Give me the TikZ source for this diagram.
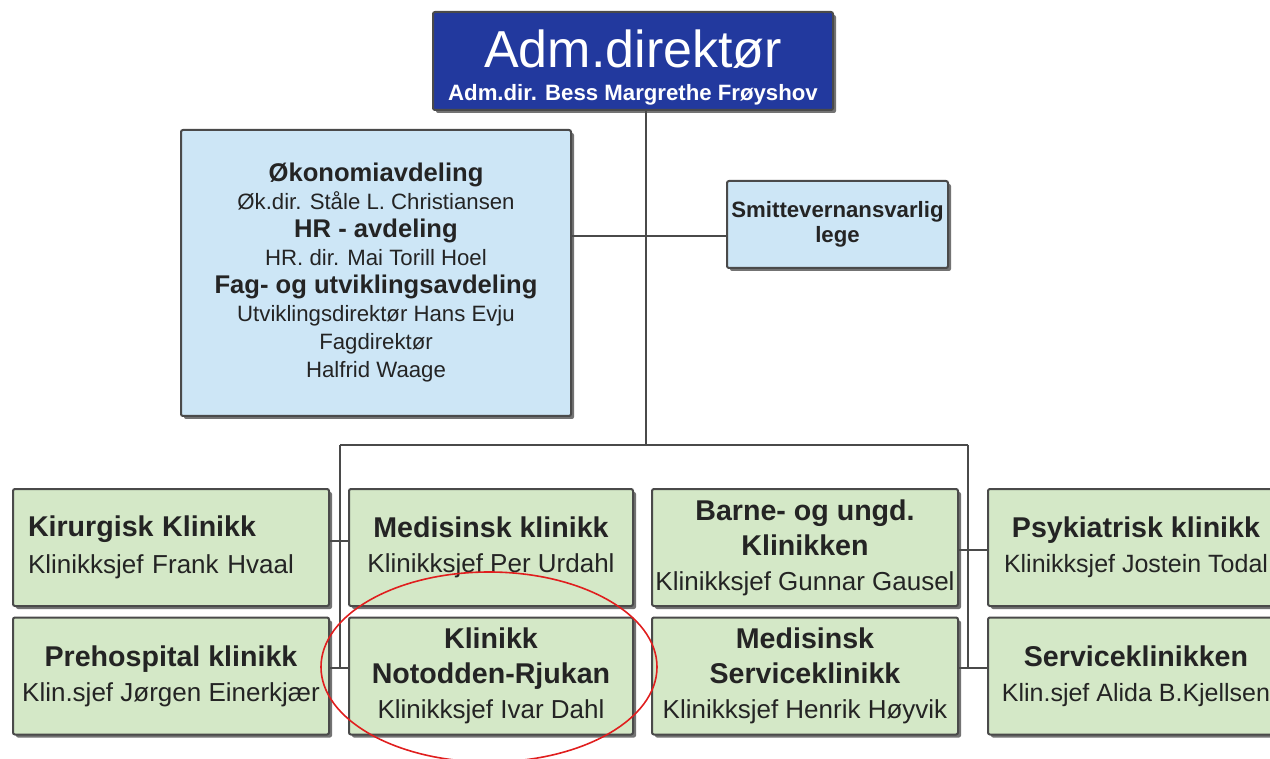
\documentclass[tikz,border=0pt]{standalone}
\usepackage{fontspec}
\setmainfont{Liberation Sans}
\usepackage{tikz}
\usetikzlibrary{shadows}
\definecolor{NAVY}{HTML}{22399E}
\definecolor{SKY}{HTML}{CDE6F6}
\definecolor{MINT}{HTML}{D4E8C7}
\definecolor{EDGE}{HTML}{4A4A4A}
\definecolor{INK}{HTML}{242424}
\definecolor{MARK}{HTML}{E01E1E}
\newcommand{\hd}[1]{{\bfseries\fontsize{14.3}{17.5}\selectfont #1}}
\newcommand{\hb}[1]{{\bfseries\fontsize{12.8}{14}\selectfont #1}}
\newcommand{\sm}[1]{{\fontsize{12.5}{17.5}\selectfont #1}}

\begin{document}
\begin{tikzpicture}[x=0.5pt,y=-0.5pt]
\tikzset{box/.style={draw=EDGE,line width=1pt,rounded corners=1pt,text=INK,
  drop shadow={shadow xshift=1.5pt,shadow yshift=-1.5pt,fill=black!55,opacity=1}},
 gbox/.style={box,fill=MINT,minimum width=#1,minimum height=58.5pt,inner xsep=1pt,align=center,font=\fontsize{13}{17.5}\selectfont},
 bbox/.style={box,fill=SKY,align=center},
 conn/.style={EDGE,line width=1pt}}
\useasboundingbox (0,0) rectangle (1270,759);
\clip (0,0) rectangle (1270,759);
\node[box,fill=NAVY,text=white,minimum width=200pt,minimum height=49pt,inner ysep=1pt,align=center,font=\fontsize{11.1}{16.5}\selectfont] (adm) at (633,61)
 {\rule{0pt}{25.6pt}{\fontsize{26}{16.5}\selectfont Adm.direktør}\\{\bfseries Adm.dir. Bess Margrethe Frøyshov}};
\node[bbox,minimum width=195pt,minimum height=143pt,font=\fontsize{11.1}{14}\selectfont] (oko) at (376,273)
 {\hb{Økonomiavdeling}\\Øk.dir. Ståle L. Christiansen\\\hb{HR - avdeling}\\HR. dir. Mai Torill Hoel\\\hb{Fag- og utviklingsavdeling}\\Utviklingsdirektør Hans Evju\\Fagdirektør\\Halfrid Waage};
\node[bbox,minimum width=110.5pt,minimum height=43.5pt,inner xsep=1pt,font=\bfseries\fontsize{11.1}{12.5}\selectfont] (smi) at (837.5,224.5) {Smittevernansvarlig\\lege};
\node[gbox=158pt,text width=143pt,align=left,inner xsep=7.5pt,font=\fontsize{13}{18.5}\selectfont] (kir) at (171,547.5) {\hd{Kirurgisk Klinikk}\\Klinikksjef Frank Hvaal};
\node[gbox=142pt] (med) at (491,547.5) {\hd{Medisinsk klinikk}\\Klinikksjef Per Urdahl};
\node[gbox=153pt] (bar) at (805,547.5) {\hd{Barne- og ungd.}\\\hd{Klinikken}\\Klinikksjef Gunnar Gausel};
\node[gbox=148pt] (psy) at (1136,547.5) {\hd{Psykiatrisk klinikk}\\\sm{Klinikksjef Jostein Todal}};
\node[gbox=158pt] (pre) at (171,676) {\hd{Prehospital klinikk}\\Klin.sjef Jørgen Einerkjær};
\node[gbox=142pt] (kno) at (491,676) {\hd{Klinikk}\\\hd{Notodden-Rjukan}\\Klinikksjef Ivar Dahl};
\node[gbox=153pt] (mss) at (805,676) {\hd{Medisinsk}\\\hd{Serviceklinikk}\\Klinikksjef Henrik Høyvik};
\node[gbox=148pt] (ser) at (1136,676) {\hd{Serviceklinikken}\\\sm{Klin.sjef Alida B.Kjellsen}};
\coordinate (bus) at (646,445);
\coordinate (busl) at (340,445);
\coordinate (busr) at (968,445);
\coordinate (staff) at (646,236);
\coordinate (legl) at (340,668);
\coordinate (legr) at (968,668);
\coordinate (stubl) at (340,541);
\coordinate (stubr) at (968,550);
\draw[conn] (adm.south -| bus) -- (bus);
\draw[conn] (oko.east |- staff) -- (smi.west |- staff);
\draw[conn] (busl) -- (busr);
\draw[conn] (busl) -- (legl);
\draw[conn] (busr) -- (legr);
\draw[conn] (kir.east |- stubl) -- (med.west |- stubl);
\draw[conn] (pre.east |- legl) -- (kno.west |- legl);
\draw[conn] (bar.east |- stubr) -- (psy.west |- stubr);
\draw[conn] (mss.east |- legr) -- (ser.west |- legr);
\draw[MARK,line width=0.8pt] (489,667) ellipse [x radius=168,y radius=95];
\end{tikzpicture}
\end{document}
